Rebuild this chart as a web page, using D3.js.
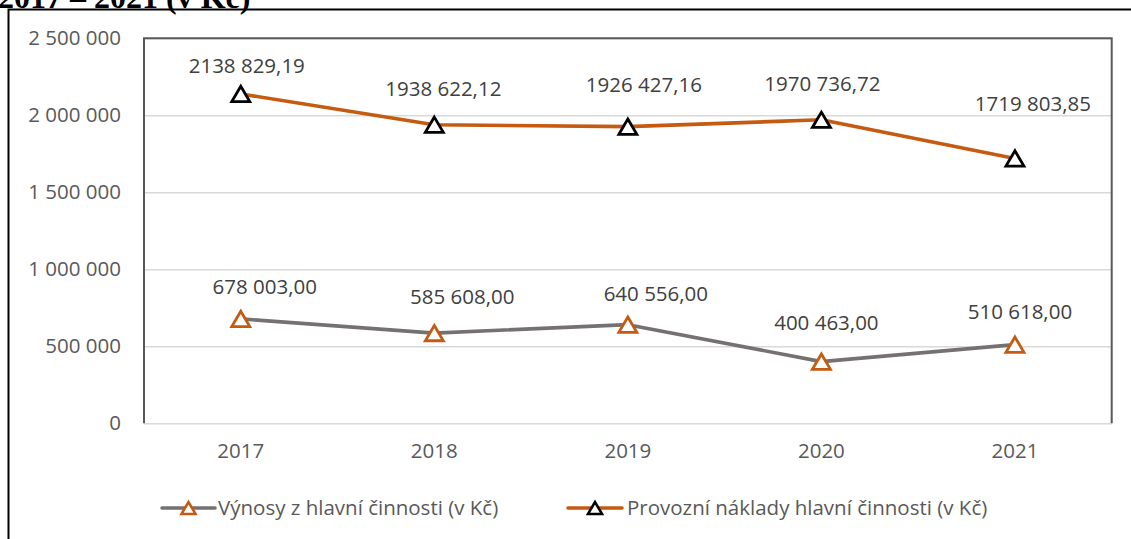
<!DOCTYPE html>
<html>
<head>
<meta charset="utf-8">
<script src="https://cdn.jsdelivr.net/npm/d3@7"></script>
<style>
  html, body { margin: 0; padding: 0; background: #fff; overflow: hidden; }
  svg { display: block; }
</style>
</head>
<body>
<svg id="chart" width="1131" height="539"></svg>
<script>
// ---- data ----
const years = ["2017", "2018", "2019", "2020", "2021"];
const vynosy = [678003.00, 585608.00, 640556.00, 400463.00, 510618.00];
const naklady = [2138829.19, 1938622.12, 1926427.16, 1970736.72, 1719803.85];
const yTicks = [0, 500000, 1000000, 1500000, 2000000, 2500000];
const seriesNames = ["Výnosy z hlavní činnosti (v Kč)", "Provozní náklady hlavní činnosti (v Kč)"];
const titleText = "2017 – 2021 (v Kč)";

// ---- layout (label nudges, px) ----
const vynosyLabelDx = [24, 28, 28, 5, 5];
const vynosyLabelDy = [-32, -36, -31, -39, -33];
const nakladyLabelDx = [6, 9, 16, 1, 18];
const nakladyLabelDy = [-28, -36, -42, -36, -55];

const svg = d3.select("#chart");
const W = 1131, H = 539;
const plot = { left: 144, top: 38.3, right: 1111.7, bottom: 423.3 };

// outer frame
svg.append("rect").attr("x", 8.5).attr("y", 9.5).attr("width", W + 20).attr("height", H + 20)
  .attr("fill", "none").attr("stroke", "#000").attr("stroke-width", 2);

// title (cut off at the top edge, as in the source image)
svg.append("text").attr("x", -2).attr("y", 8)
  .attr("font-family", "'Liberation Serif', 'Times New Roman', serif")
  .attr("font-weight", "bold").attr("font-size", 32).attr("fill", "#000")
  .text(titleText);

const x = d3.scaleBand().domain(years).range([plot.left, plot.right]).paddingInner(0).paddingOuter(0);
const cx = d => x(d) + x.bandwidth() / 2;
const y = d3.scaleLinear().domain([0, 2500000]).range([plot.bottom, plot.top]);

const fmtTick = v => d3.format(",")(v).replace(/,/g, " ");
const fmtLabel = v => {
  const s = v.toFixed(2);
  let [ip, dp] = s.split(".");
  if (ip.length > 3) ip = ip.slice(0, ip.length - 3) + " " + ip.slice(-3);
  return ip + "," + dp;
};

const font = "'Open Sans', 'Noto Sans', sans-serif";

// gridlines + y tick labels
const yAxis = d3.axisLeft(y).tickValues(yTicks).tickSize(-(plot.right - plot.left)).tickFormat(fmtTick).tickPadding(23);
const gy = svg.append("g").attr("transform", `translate(${plot.left},0)`).call(yAxis);
gy.select(".domain").remove();
gy.selectAll(".tick line").attr("stroke", "#D9D9D9").attr("stroke-width", 1.5);
gy.selectAll(".tick text").attr("font-family", font).attr("font-size", 20.5).attr("fill", "#595959");

// plot area border (left, top, right)
svg.append("path")
  .attr("d", `M${plot.left},${plot.bottom} V${plot.top} H${plot.right} V${plot.bottom}`)
  .attr("fill", "none").attr("stroke", "#595959").attr("stroke-width", 2);

// x axis labels
const xAxis = d3.axisBottom(x).tickSize(0).tickPadding(20);
const gx = svg.append("g").attr("transform", `translate(0,${plot.bottom})`).call(xAxis);
gx.select(".domain").remove();
gx.selectAll(".tick text").attr("font-family", font).attr("font-size", 20.5).attr("fill", "#595959");

const orange = "#C55A11";
const gray = "#767171";

function triPath(w) {
  const h = w * 0.85;
  return `M0,${-h/2} L${w/2},${h/2} L${-w/2},${h/2} Z`;
}

const series = [
  { vals: vynosy, line: gray, mStroke: orange, dx: vynosyLabelDx, dy: vynosyLabelDy },
  { vals: naklady, line: orange, mStroke: "#000", dx: nakladyLabelDx, dy: nakladyLabelDy }
];

const lineGen = d3.line().x((d, i) => cx(years[i])).y(d => y(d));

series.forEach(s => {
  svg.append("path").attr("d", lineGen(s.vals)).attr("fill", "none")
    .attr("stroke", s.line).attr("stroke-width", 3.6).attr("stroke-linejoin", "round");
  svg.append("g").selectAll("path").data(s.vals).join("path")
    .attr("d", triPath(18))
    .attr("transform", (d, i) => `translate(${cx(years[i])},${y(d)})`)
    .attr("fill", "#fff").attr("stroke", s.mStroke).attr("stroke-width", 2.8).attr("stroke-linejoin", "miter");
  svg.append("g").selectAll("text").data(s.vals).join("text")
    .attr("x", (d, i) => cx(years[i]) + s.dx[i])
    .attr("y", (d, i) => y(d) + s.dy[i])
    .attr("dy", "0.35em")
    .attr("text-anchor", "middle")
    .attr("font-family", font).attr("font-size", 20.5).attr("fill", "#404040")
    .text(d => fmtLabel(d));
});

// legend
const legY = 508;
const legendItems = [
  { name: seriesNames[0], line: gray, mStroke: orange, x0: 162, x1: 215, tx: 218 },
  { name: seriesNames[1], line: orange, mStroke: "#000", x0: 568, x1: 622, tx: 627 }
];
legendItems.forEach(l => {
  svg.append("line").attr("x1", l.x0).attr("x2", l.x1).attr("y1", legY).attr("y2", legY)
    .attr("stroke", l.line).attr("stroke-width", 3.6).attr("stroke-linecap", "round");
  svg.append("path").attr("d", triPath(14))
    .attr("transform", `translate(${(l.x0 + l.x1) / 2},${legY})`)
    .attr("fill", "#fff").attr("stroke", l.mStroke).attr("stroke-width", 2.6);
  svg.append("text").attr("x", l.tx).attr("y", legY).attr("dy", "0.35em")
    .attr("font-family", font).attr("font-size", 20.5).attr("fill", "#595959")
    .text(l.name);
});
</script>
</body>
</html>
